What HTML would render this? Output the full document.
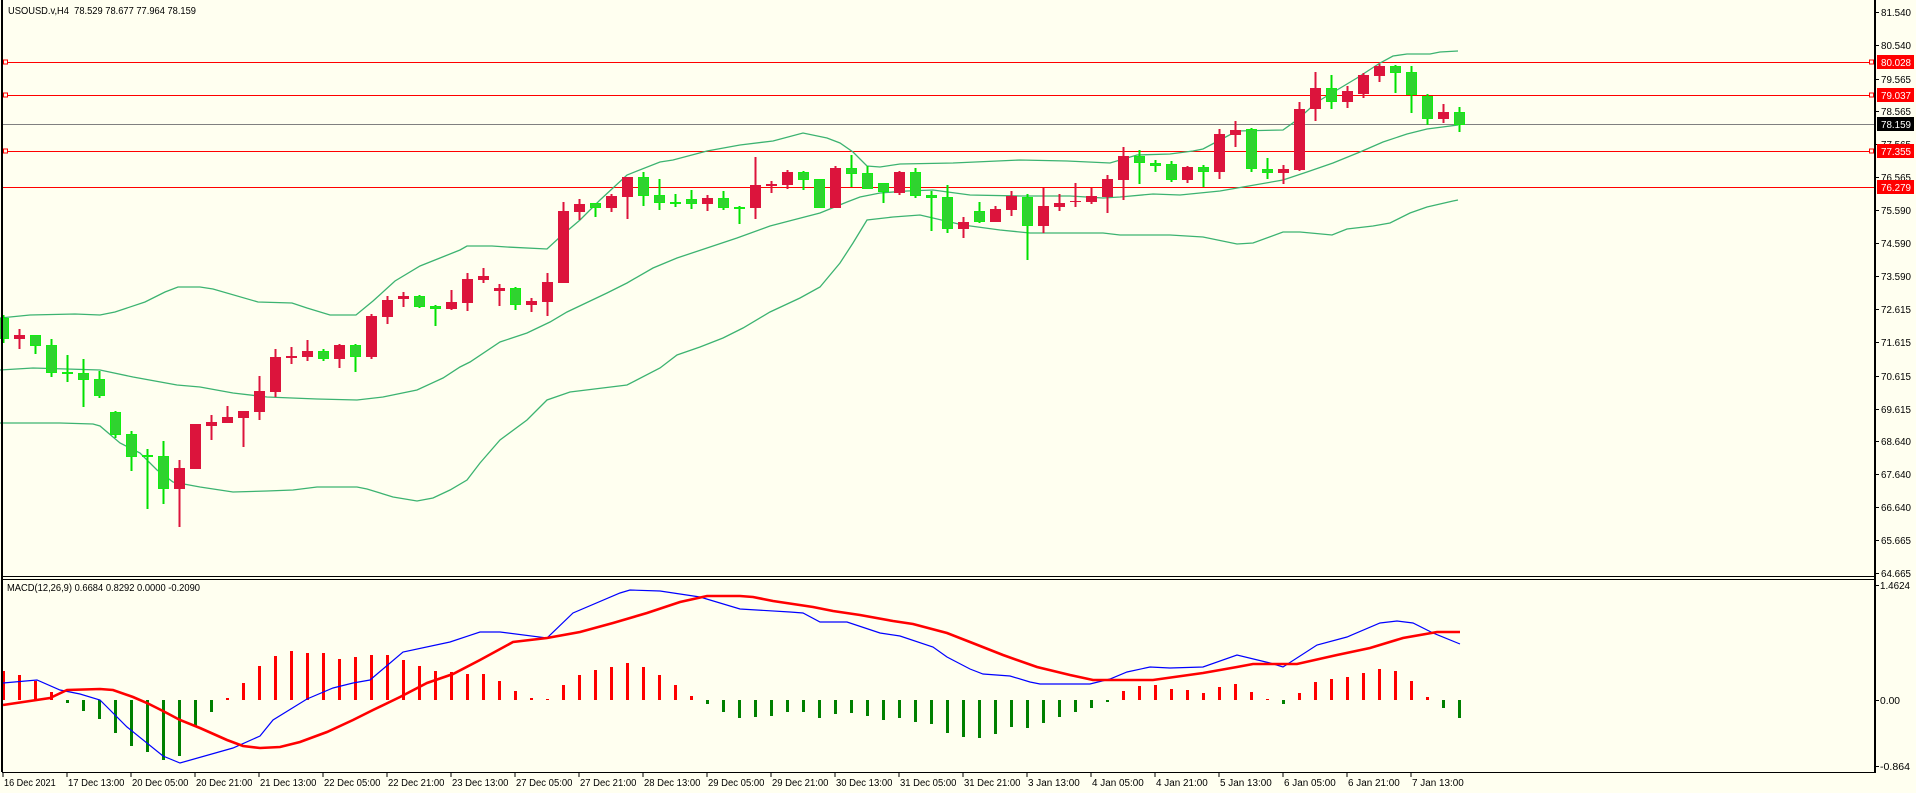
<!DOCTYPE html>
<html><head><meta charset="utf-8"><style>
html,body{margin:0;padding:0;background:#fffff0;}
svg{display:block;font-family:"Liberation Sans",sans-serif;}
</style></head><body>
<svg id="s" width="1916" height="793" viewBox="0 0 1916 793" xmlns="http://www.w3.org/2000/svg">
<rect x="0" y="0" width="1916" height="793" fill="#fffff0"/>
<g id="g"></g>
</svg>
<script>
var g=document.getElementById('g'),o='';
function L(x1,y1,x2,y2,c,w){o+='<line x1="'+x1+'" y1="'+y1+'" x2="'+x2+'" y2="'+y2+'" stroke="'+c+'" stroke-width="'+(w||1)+'" shape-rendering="crispEdges"/>';}
function R(x,y,w,h,f,s){o+='<rect x="'+x+'" y="'+y+'" width="'+w+'" height="'+Math.max(h,1)+'" fill="'+f+'"'+(s?' stroke="'+s+'" stroke-width="1"':'')+' shape-rendering="crispEdges"/>';}
function T(x,y,t,c,sz,tl){o+='<text x="'+x+'" y="'+y+'" fill="'+(c||'#000')+'" font-size="'+(sz||10)+'"'+(tl?' textLength="'+tl+'" lengthAdjust="spacingAndGlyphs"':'')+'>'+t+'</text>';}
function P(pts,c,w){o+='<polyline fill="none" stroke="'+c+'" stroke-width="'+w+'" points="'+pts.map(function(p){return p.join(',')}).join(' ')+'"/>';}
[[62,1],[95,1],[151,1],[187,0]].forEach(function(l){L(2,l[0]+.5,1875,l[0]+.5,'#ff0000',1.3);if(l[1]){R(3.5,l[0]-2,4,4,'#fffff0','#ff0000');R(1869.5,l[0]-2,4,4,'#fffff0','#ff0000');}});
L(2,124.5,1875,124.5,'#808080',1.3);
var up=[[0,318],[30,315],[75,314],[100,315],[115,312],[145,302],[165,292],[178,287],[200,287],[213,289],[258,302],[292,303],[307,308],[330,315],[356,315],[373,301],[395,281],[420,266],[445,256],[460,250],[467,246],[492,246],[507,247],[547,249],[560,237],[580,220],[600,200],[627,175],[660,162],[673,160],[707,151],[740,145],[773,141],[803,133],[827,138],[840,143],[853,152],[867,166],[880,167],[900,164],[953,163],[1020,160],[1067,161],[1110,163],[1137,155],[1170,154],[1193,151],[1203,149],[1220,140],[1237,131],[1283,130],[1297,120],[1317,102],[1357,78],[1380,63],[1393,56],[1407,54],[1430,54],[1440,52],[1458,51]];
var mid=[[0,370],[33,368],[100,370],[133,377],[177,385],[200,387],[233,393],[267,397],[317,399],[357,400],[383,397],[417,390],[443,378],[460,367],[470,362],[500,342],[527,333],[550,322],[567,312],[607,293],[627,283],[653,268],[677,258],[707,248],[737,238],[770,226],[793,220],[820,213],[847,202],[860,197],[880,193],[907,191],[933,190],[970,195],[1020,196],[1070,196],[1103,198],[1120,197],[1153,194],[1180,195],[1200,193],[1220,191],[1243,187],[1283,180],[1307,172],[1333,163],[1360,152],[1383,142],[1407,134],[1427,129],[1458,125]];
var lo=[[0,423],[60,423],[93,424],[100,426],[120,443],[140,453],[157,470],[173,482],[200,487],[233,492],[267,491],[293,490],[317,487],[357,487],[367,489],[393,497],[417,501],[433,498],[450,490],[467,480],[480,463],[500,440],[527,420],[547,400],[570,392],[627,385],[660,368],[677,355],[700,347],[723,338],[743,328],[770,312],[800,298],[820,287],[840,263],[853,243],[867,220],[893,217],[920,215],[963,225],[1000,230],[1030,233],[1103,233],[1120,235],[1170,235],[1203,237],[1237,244],[1253,243],[1283,232],[1300,232],[1332,235],[1347,229],[1373,226],[1390,223],[1410,213],[1427,207],[1453,201],[1458,200]];
P(up,'#3cb371',1.3);P(mid,'#3cb371',1.3);P(lo,'#3cb371',1.3);
var C=[[318,339,315,343,'g'],[335,339,329,349,'r'],[335,346,335,354,'g'],[345,373,339,377,'g'],[372,374,355,382,'g'],[373,380,359,407,'g'],[379,396,371,398,'g'],[412,435,411,438,'g'],[434,457,431,471,'g'],[455,457,449,509,'g'],[456,489,441,504,'g'],[468,489,460,527,'r'],[424,469,424,469,'r'],[422,426,415,440,'r'],[417,423,406,423,'r'],[411,418,411,447,'r'],[391,412,376,420,'r'],[357,392,349,397,'r'],[356,358,347,364,'r'],[351,357,340,361,'r'],[351,359,349,361,'g'],[345,359,344,368,'r'],[345,357,344,372,'g'],[316,357,314,359,'r'],[300,317,296,324,'r'],[296,299,292,307,'r'],[296,307,295,308,'g'],[306,309,305,326,'g'],[302,309,290,310,'r'],[279,303,273,311,'r'],
[276,280,268,283,'r'],[288,291,284,306,'r'],[288,305,287,310,'g'],[301,305,298,312,'r'],[282,302,273,316,'r'],[211,283,202,283,'r'],[204,212,199,220,'r'],[203,208,203,217,'g'],[196,208,194,212,'r'],[177,197,177,219,'r'],[177,196,172,206,'g'],[195,203,179,210,'g'],[202,203,194,207,'g'],[199,204,190,209,'g'],[198,204,195,211,'r'],[198,208,191,210,'g'],[207,208,206,224,'g'],[185,208,157,219,'r'],[184,186,181,193,'r'],[172,185,170,189,'r'],[172,180,171,190,'g'],[179,208,179,208,'g'],[168,208,166,208,'r'],[168,174,155,187,'g'],[173,189,166,189,'g'],[183,192,183,203,'g'],[172,193,171,195,'r'],[172,196,168,198,'g'],[195,198,191,231,'g'],
[197,229,185,233,'g'],[222,229,217,238,'r'],[211,222,202,223,'g'],[209,222,206,222,'r'],[196,210,191,216,'r'],[197,226,194,260,'g'],[206,226,188,233,'r'],[203,207,194,211,'r'],[201,202,183,207,'r'],[196,202,188,204,'r'],[179,197,175,213,'r'],[156,180,147,200,'r'],[156,163,150,184,'g'],[163,166,160,172,'g'],[164,180,161,182,'g'],[167,180,166,183,'r'],[167,172,165,187,'g'],[134,172,129,179,'r'],[130,135,121,147,'r'],[129,169,128,172,'g'],[169,173,158,179,'g'],[169,173,165,184,'r'],
[109,170,102,171,'r'],[88,109,72,121,'r'],[88,102,75,109,'g'],[91,102,86,108,'r'],[75,94,73,98,'r'],[66,76,64,82,'r'],[66,73,65,93,'g'],[72,95,66,113,'g'],[96,119,94,125,'g'],[112,119,104,123,'r'],[112,125,107,132,'g']];
C.forEach(function(c,i){var x=3.3+16*i;var red=c[4]=='r';var wc=red?'#dc143c':'#00e000';
L(x,c[2],x,c[3],wc,2);
if(red)R(x-5.5,c[0],11,c[1]-c[0],'#dc143c');else R(x-5,c[0]+.5,10,c[1]-c[0]-1,'#2fd32f','#11ee11');});
var H=[671,675,681,692,703,711,719,733,746,752,760,756,726,712,698,683,666,656,651,653,653,659,657,655,655,660,666,671,672,674,674,681,691,698,699,685,675,670,667,663,667,675,685,696,704,712,718,717,716,712,712,718,714,713,716,720,718,722,724,733,737,738,734,727,728,723,717,712,708,700,691,686,685,689,690,693,687,684,692,699,704,693,682,679,677,673,669,671,681,697,708,718];
H.forEach(function(h,i){var x=3.3+16*i;if(h<700){R(x-1.5,h,3,700-h,'#ff0000');}else{R(x-1.5,700,3,Math.max(h-700,2),'#008000');}});
var blue=[[3,683],[37,680],[60,690],[80,694],[100,700],[127,727],[163,756],[180,763],[233,748],[260,736],[273,720],[307,699],[333,688],[353,683],[370,680],[403,652],[450,642],[480,632],[500,632],[547,638],[573,613],[620,593],[630,590],[660,591],[700,597],[740,609],[790,612],[803,613],[820,622],[847,622],[880,633],[900,636],[933,647],[947,657],[970,669],[983,674],[1010,676],[1030,682],[1040,684],[1090,684],[1110,679],[1127,672],[1150,667],[1170,668],[1203,667],[1237,655],[1270,663],[1283,667],[1317,645],[1347,637],[1380,623],[1397,621],[1413,623],[1433,633],[1460,644]];
var sig=[[3,705],[50,698],[67,690],[100,689],[113,690],[133,697],[147,703],[163,711],[180,720],[200,728],[227,740],[243,746],[260,748],[280,747],[300,742],[327,732],[353,720],[373,710],[400,697],[427,683],[453,674],[480,660],[513,642],[547,638],[580,632],[613,623],[647,613],[680,602],[707,596],[740,596],[753,597],[773,601],[813,607],[833,611],[860,615],[893,621],[913,624],[947,633],[970,642],[1003,655],[1037,667],[1070,675],[1093,680],[1153,680],[1203,673],[1237,667],[1253,664],[1297,664],[1337,655],[1370,648],[1403,638],[1437,632],[1460,632]];
P(blue,'#0000ff',1.2);P(sig,'#ff0000',2.6);
L(2,0,2,772,'#000',2);L(1875,0,1875,773,'#000',2);
L(2,576.5,1875,576.5,'#000',1);L(2,579.5,1875,579.5,'#000',1);L(2,772.5,1875,772.5,'#000',1);
[[81.540,12],[80.540,45],[79.565,79],[78.565,111],[77.565,144],[76.565,177],[75.590,210],[74.590,243],[73.590,276],[72.615,309],[71.615,342],[70.615,376],[69.615,409],[68.640,441],[67.640,474],[66.640,507],[65.665,540],[64.665,573]].forEach(function(p){L(1875,p[1]+.5,1879,p[1]+.5,'#000',1);T(1881,p[1]+4,p[0].toFixed(3),'#000',10,30);});
[['80.028',62,'#ff0000'],['79.037',95,'#ff0000'],['78.159',124,'#000'],['77.355',151,'#ff0000'],['76.279',187,'#ff0000']].forEach(function(b){R(1877,b[1]-7,37,14,b[2]);T(1881,b[1]+4,b[0],'#fff',10,30);});
[['1.4624',585],['0.00',700],['-0.864',766]].forEach(function(p){L(1875,p[1]+.5,1879,p[1]+.5,'#000',1);T(1880,p[1]+4,p[0],'#000',10,p[0].length*5);});
var TL=["16 Dec 2021","17 Dec 13:00","20 Dec 05:00","20 Dec 21:00","21 Dec 13:00","22 Dec 05:00","22 Dec 21:00","23 Dec 13:00","27 Dec 05:00","27 Dec 21:00","28 Dec 13:00","29 Dec 05:00","29 Dec 21:00","30 Dec 13:00","31 Dec 05:00","31 Dec 21:00","3 Jan 13:00","4 Jan 05:00","4 Jan 21:00","5 Jan 13:00","6 Jan 05:00","6 Jan 21:00","7 Jan 13:00"];
TL.forEach(function(t,k){var x=3+64*k;L(x,772,x,777,'#000',1);T(x+1,786,t,'#000',10,t.length*4.7);});
T(8,14,'USOUSD.v,H4&#160;&#160;78.529 78.677 77.964 78.159','#000',10,188);
T(7,591,'MACD(12,26,9) 0.6684 0.8292 0.0000 -0.2090','#000',10,193);
g.innerHTML=o;
</script>
</body></html>
